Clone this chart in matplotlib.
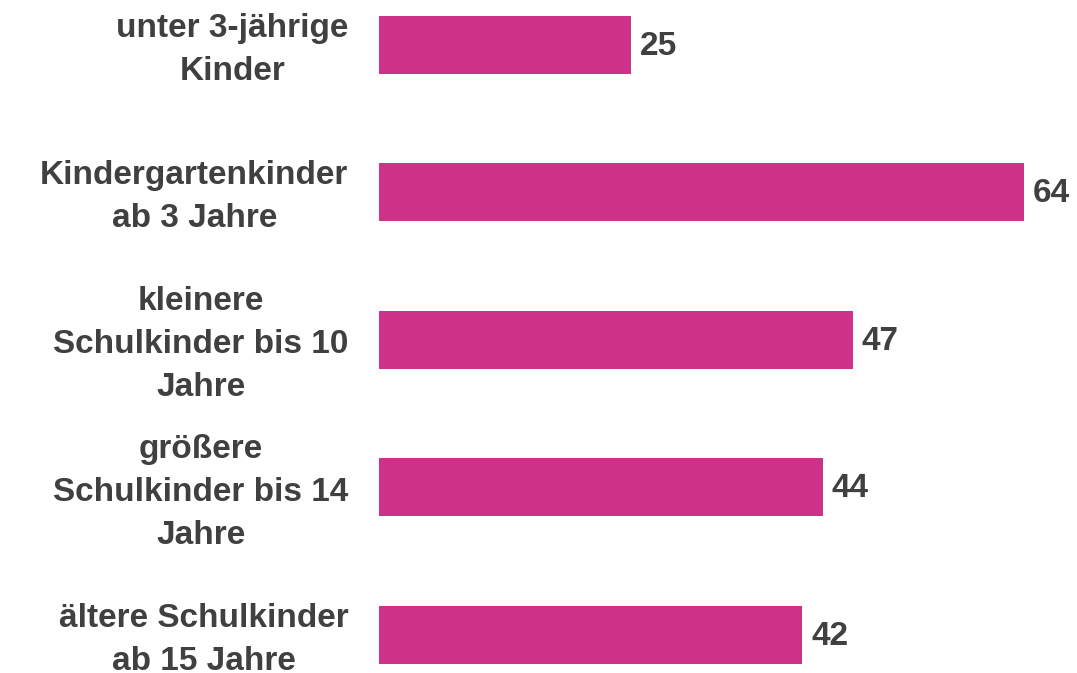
import numpy as np
import matplotlib
matplotlib.use("Agg")
import matplotlib.pyplot as plt

plt.rcParams['font.family'] = ['Liberation Sans', 'DejaVu Sans']

categories = [
    "unter 3-jährige\nKinder",
    "Kindergartenkinder\nab 3 Jahre",
    "kleinere\nSchulkinder bis 10\nJahre",
    "größere\nSchulkinder bis 14\nJahre",
    "ältere Schulkinder\nab 15 Jahre",
]
values = [25, 64, 47, 44, 42]

bar_color = "#CC3388"
text_color = "#404040"

fig = plt.figure(figsize=(10.77, 6.73), dpi=100)
ax = fig.add_axes([379 / 1077, 0, 1 - 379 / 1077, 1])

y = np.arange(len(values))
ax.barh(y, values, height=0.393, color=bar_color)
ax.set_xlim(0, (1077 - 379) / 10.08)
ax.set_ylim(4.258, -0.305)

for yi, v in zip(y, values):
    ax.annotate(str(v), (v, yi), xytext=(6.5, -1), textcoords="offset points",
                ha="left", va="center", fontsize=24, fontweight="bold",
                color=text_color)

for yi, lab in zip(y, categories):
    ax.annotate(lab, (0, yi), xytext=(-22, -3.5), textcoords="offset points",
                ha="right", va="center", multialignment="center",
                fontsize=24, fontweight="bold", color=text_color,
                linespacing=1.5, annotation_clip=False)

ax.axis("off")
fig.savefig("out.png", dpi=100)
